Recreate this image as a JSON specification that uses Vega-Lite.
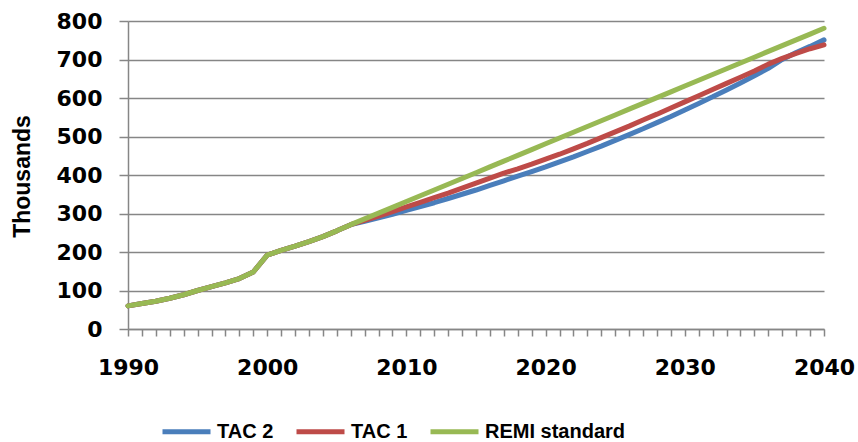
{
  "$schema": "https://vega.github.io/schema/vega-lite/v6.json",
  "autosize": {"type": "none"},
  "padding": {"left": 128, "top": 21, "right": 34, "bottom": 113},
  "width": 696,
  "height": 308,
  "background": "white",
  "config": {
    "view": {"stroke": null},
    "axis": {
      "labelFont": "DejaVu Sans",
      "labelFontWeight": "bold",
      "labelFontSize": 22,
      "labelColor": "#000000",
      "domainColor": "#868686",
      "domainWidth": 1.5,
      "tickColor": "#868686",
      "tickWidth": 1.5,
      "gridColor": "#868686",
      "gridWidth": 1.5
    }
  },
  "data": {
    "values": [
      {"year": 1990, "series": "TAC 2", "value": 60}, {"year": 1991, "series": "TAC 2", "value": 66}, {"year": 1992, "series": "TAC 2", "value": 72}, {"year": 1993, "series": "TAC 2", "value": 80}, {"year": 1994, "series": "TAC 2", "value": 89}, {"year": 1995, "series": "TAC 2", "value": 100}, {"year": 1996, "series": "TAC 2", "value": 110}, {"year": 1997, "series": "TAC 2", "value": 120}, {"year": 1998, "series": "TAC 2", "value": 131}, {"year": 1999, "series": "TAC 2", "value": 148}, {"year": 2000, "series": "TAC 2", "value": 192}, {"year": 2001, "series": "TAC 2", "value": 204}, {"year": 2002, "series": "TAC 2", "value": 215}, {"year": 2003, "series": "TAC 2", "value": 227}, {"year": 2004, "series": "TAC 2", "value": 240}, {"year": 2005, "series": "TAC 2", "value": 255}, {"year": 2006, "series": "TAC 2", "value": 271},
      {"year": 2007, "series": "TAC 2", "value": 280}, {"year": 2008, "series": "TAC 2", "value": 289}, {"year": 2009, "series": "TAC 2", "value": 298}, {"year": 2010, "series": "TAC 2", "value": 308}, {"year": 2011, "series": "TAC 2", "value": 318}, {"year": 2012, "series": "TAC 2", "value": 328}, {"year": 2013, "series": "TAC 2", "value": 339}, {"year": 2014, "series": "TAC 2", "value": 350}, {"year": 2015, "series": "TAC 2", "value": 361}, {"year": 2016, "series": "TAC 2", "value": 373}, {"year": 2017, "series": "TAC 2", "value": 385}, {"year": 2018, "series": "TAC 2", "value": 397}, {"year": 2019, "series": "TAC 2", "value": 409}, {"year": 2020, "series": "TAC 2", "value": 421}, {"year": 2021, "series": "TAC 2", "value": 434}, {"year": 2022, "series": "TAC 2", "value": 447}, {"year": 2023, "series": "TAC 2", "value": 461}, {"year": 2024, "series": "TAC 2", "value": 475}, {"year": 2025, "series": "TAC 2", "value": 490}, {"year": 2026, "series": "TAC 2", "value": 505}, {"year": 2027, "series": "TAC 2", "value": 520}, {"year": 2028, "series": "TAC 2", "value": 536}, {"year": 2029, "series": "TAC 2", "value": 552}, {"year": 2030, "series": "TAC 2", "value": 569}, {"year": 2031, "series": "TAC 2", "value": 586}, {"year": 2032, "series": "TAC 2", "value": 603}, {"year": 2033, "series": "TAC 2", "value": 621}, {"year": 2034, "series": "TAC 2", "value": 639}, {"year": 2035, "series": "TAC 2", "value": 658}, {"year": 2036, "series": "TAC 2", "value": 677}, {"year": 2037, "series": "TAC 2", "value": 700}, {"year": 2038, "series": "TAC 2", "value": 718}, {"year": 2039, "series": "TAC 2", "value": 734}, {"year": 2040, "series": "TAC 2", "value": 751},
      {"year": 1990, "series": "TAC 1", "value": 60}, {"year": 1991, "series": "TAC 1", "value": 66}, {"year": 1992, "series": "TAC 1", "value": 72}, {"year": 1993, "series": "TAC 1", "value": 80}, {"year": 1994, "series": "TAC 1", "value": 89}, {"year": 1995, "series": "TAC 1", "value": 100}, {"year": 1996, "series": "TAC 1", "value": 110}, {"year": 1997, "series": "TAC 1", "value": 120}, {"year": 1998, "series": "TAC 1", "value": 131}, {"year": 1999, "series": "TAC 1", "value": 148}, {"year": 2000, "series": "TAC 1", "value": 192}, {"year": 2001, "series": "TAC 1", "value": 204}, {"year": 2002, "series": "TAC 1", "value": 215}, {"year": 2003, "series": "TAC 1", "value": 227}, {"year": 2004, "series": "TAC 1", "value": 240}, {"year": 2005, "series": "TAC 1", "value": 255}, {"year": 2006, "series": "TAC 1", "value": 271},
      {"year": 2007, "series": "TAC 1", "value": 282}, {"year": 2008, "series": "TAC 1", "value": 293}, {"year": 2009, "series": "TAC 1", "value": 305}, {"year": 2010, "series": "TAC 1", "value": 317}, {"year": 2011, "series": "TAC 1", "value": 329}, {"year": 2012, "series": "TAC 1", "value": 341}, {"year": 2013, "series": "TAC 1", "value": 353}, {"year": 2014, "series": "TAC 1", "value": 366}, {"year": 2015, "series": "TAC 1", "value": 379}, {"year": 2016, "series": "TAC 1", "value": 392}, {"year": 2017, "series": "TAC 1", "value": 405}, {"year": 2018, "series": "TAC 1", "value": 416}, {"year": 2019, "series": "TAC 1", "value": 428}, {"year": 2020, "series": "TAC 1", "value": 441}, {"year": 2021, "series": "TAC 1", "value": 454}, {"year": 2022, "series": "TAC 1", "value": 468}, {"year": 2023, "series": "TAC 1", "value": 482}, {"year": 2024, "series": "TAC 1", "value": 497}, {"year": 2025, "series": "TAC 1", "value": 512}, {"year": 2026, "series": "TAC 1", "value": 527}, {"year": 2027, "series": "TAC 1", "value": 543}, {"year": 2028, "series": "TAC 1", "value": 558}, {"year": 2029, "series": "TAC 1", "value": 574}, {"year": 2030, "series": "TAC 1", "value": 590}, {"year": 2031, "series": "TAC 1", "value": 606}, {"year": 2032, "series": "TAC 1", "value": 622}, {"year": 2033, "series": "TAC 1", "value": 638}, {"year": 2034, "series": "TAC 1", "value": 654}, {"year": 2035, "series": "TAC 1", "value": 670}, {"year": 2036, "series": "TAC 1", "value": 688}, {"year": 2037, "series": "TAC 1", "value": 703}, {"year": 2038, "series": "TAC 1", "value": 716}, {"year": 2039, "series": "TAC 1", "value": 728}, {"year": 2040, "series": "TAC 1", "value": 738},
      {"year": 1990, "series": "REMI standard", "value": 60}, {"year": 1991, "series": "REMI standard", "value": 66}, {"year": 1992, "series": "REMI standard", "value": 72}, {"year": 1993, "series": "REMI standard", "value": 80}, {"year": 1994, "series": "REMI standard", "value": 89}, {"year": 1995, "series": "REMI standard", "value": 100}, {"year": 1996, "series": "REMI standard", "value": 110}, {"year": 1997, "series": "REMI standard", "value": 120}, {"year": 1998, "series": "REMI standard", "value": 131}, {"year": 1999, "series": "REMI standard", "value": 148}, {"year": 2000, "series": "REMI standard", "value": 192}, {"year": 2001, "series": "REMI standard", "value": 204}, {"year": 2002, "series": "REMI standard", "value": 215}, {"year": 2003, "series": "REMI standard", "value": 227}, {"year": 2004, "series": "REMI standard", "value": 240}, {"year": 2005, "series": "REMI standard", "value": 255}, {"year": 2006, "series": "REMI standard", "value": 271},
      {"year": 2007, "series": "REMI standard", "value": 286}, {"year": 2008, "series": "REMI standard", "value": 301}, {"year": 2009, "series": "REMI standard", "value": 316}, {"year": 2010, "series": "REMI standard", "value": 331}, {"year": 2011, "series": "REMI standard", "value": 346}, {"year": 2012, "series": "REMI standard", "value": 361}, {"year": 2013, "series": "REMI standard", "value": 376}, {"year": 2014, "series": "REMI standard", "value": 391}, {"year": 2015, "series": "REMI standard", "value": 406}, {"year": 2016, "series": "REMI standard", "value": 421}, {"year": 2017, "series": "REMI standard", "value": 436}, {"year": 2018, "series": "REMI standard", "value": 451}, {"year": 2019, "series": "REMI standard", "value": 466}, {"year": 2020, "series": "REMI standard", "value": 481}, {"year": 2021, "series": "REMI standard", "value": 496}, {"year": 2022, "series": "REMI standard", "value": 511}, {"year": 2023, "series": "REMI standard", "value": 526}, {"year": 2024, "series": "REMI standard", "value": 541}, {"year": 2025, "series": "REMI standard", "value": 556}, {"year": 2026, "series": "REMI standard", "value": 571}, {"year": 2027, "series": "REMI standard", "value": 586}, {"year": 2028, "series": "REMI standard", "value": 601}, {"year": 2029, "series": "REMI standard", "value": 616}, {"year": 2030, "series": "REMI standard", "value": 631}, {"year": 2031, "series": "REMI standard", "value": 646}, {"year": 2032, "series": "REMI standard", "value": 661}, {"year": 2033, "series": "REMI standard", "value": 676}, {"year": 2034, "series": "REMI standard", "value": 691}, {"year": 2035, "series": "REMI standard", "value": 706}, {"year": 2036, "series": "REMI standard", "value": 721}, {"year": 2037, "series": "REMI standard", "value": 736}, {"year": 2038, "series": "REMI standard", "value": 751}, {"year": 2039, "series": "REMI standard", "value": 766}, {"year": 2040, "series": "REMI standard", "value": 781}
    ]
  },
  "encoding": {
    "x": {
      "field": "year",
      "type": "quantitative",
      "scale": {"domain": [1990, 2040], "zero": false, "nice": false},
      "axis": {
        "title": null,
        "grid": false,
        "values": [1990,1991,1992,1993,1994,1995,1996,1997,1998,1999,2000,2001,2002,2003,2004,2005,2006,2007,2008,2009,2010,2011,2012,2013,2014,2015,2016,2017,2018,2019,2020,2021,2022,2023,2024,2025,2026,2027,2028,2029,2030,2031,2032,2033,2034,2035,2036,2037,2038,2039,2040],
        "labelExpr": "datum.value % 10 === 0 ? format(datum.value, 'd') : ''",
        "labelOverlap": false,
        "labelFlush": false,
        "tickSize": 7,
        "labelPadding": 21
      }
    },
    "y": {
      "field": "value",
      "type": "quantitative",
      "scale": {"domain": [0, 800], "nice": false},
      "axis": {
        "title": "Thousands",
        "titleFont": "Liberation Sans",
        "titleFontWeight": "bold",
        "titleFontSize": 23,
        "titleColor": "#000000",
        "titleX": -106,
        "titleY": 155,
        "titleAngle": -90,
        "titleAlign": "center",
        "titleBaseline": "middle",
        "values": [0,100,200,300,400,500,600,700,800],
        "grid": true,
        "tickSize": 9,
        "labelPadding": 17
      }
    },
    "color": {
      "field": "series",
      "type": "nominal",
      "scale": {"domain": ["TAC 2", "TAC 1", "REMI standard"], "range": ["#4a7ebb", "#be4b48", "#98b954"]},
      "legend": {
        "title": null,
        "orient": "none",
        "direction": "horizontal",
        "legendX": 32,
        "legendY": 384,
        "symbolType": "stroke",
        "symbolSize": 2304,
        "symbolStrokeWidth": 5,
        "labelFont": "Liberation Sans",
        "labelFontWeight": "bold",
        "labelFontSize": 20,
        "labelLimit": 300,
        "labelColor": "#000000",
        "labelOffset": 4,
        "columnPadding": 12
      }
    }
  },
  "layer": [
    {"transform": [{"filter": "datum.series === 'TAC 2'"}], "mark": {"type": "line", "strokeWidth": 5, "strokeCap": "round", "strokeJoin": "round"}},
    {"transform": [{"filter": "datum.series === 'TAC 1'"}], "mark": {"type": "line", "strokeWidth": 5, "strokeCap": "round", "strokeJoin": "round"}},
    {"transform": [{"filter": "datum.series === 'REMI standard'"}], "mark": {"type": "line", "strokeWidth": 5, "strokeCap": "round", "strokeJoin": "round"}}
  ]
}
